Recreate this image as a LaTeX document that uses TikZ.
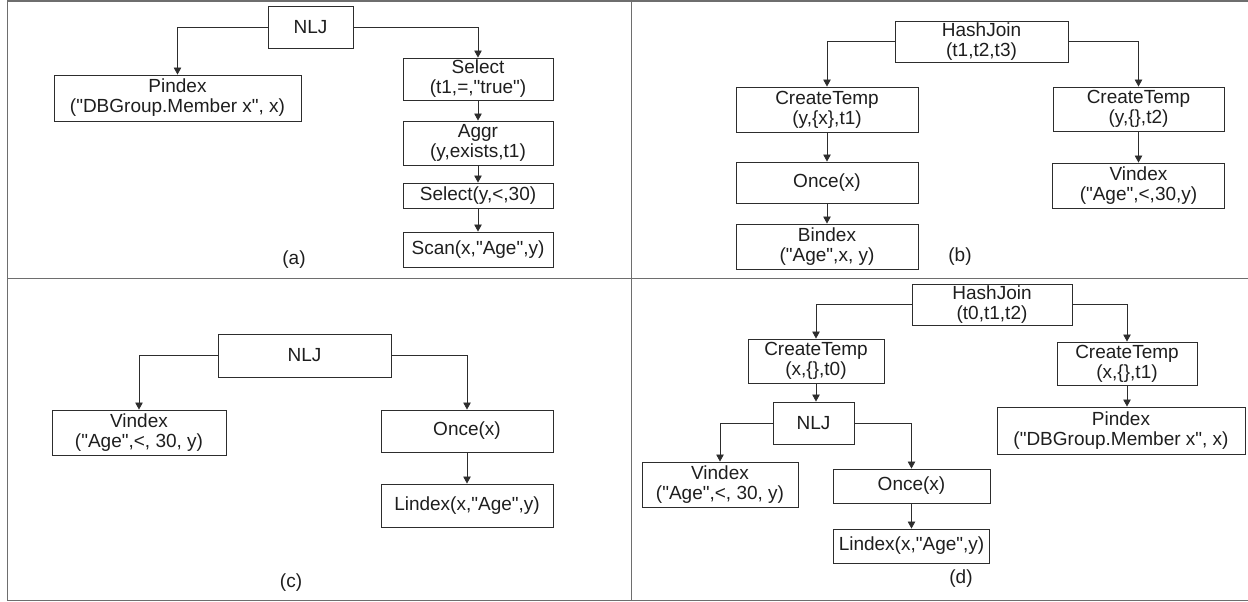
\documentclass[tikz,border=0pt]{standalone}
\usepackage{fontspec}
\newfontfamily\opfont{Liberation Sans}
\usetikzlibrary{arrows.meta, positioning}
\definecolor{boxline}{RGB}{45,45,45}
\definecolor{frameline}{RGB}{110,110,110}
\definecolor{optext}{RGB}{30,30,30}

\begin{document}
\begin{tikzpicture}[x=1pt, y=-1pt,
    opbox/.style 2 args={draw=boxline, line width=0.9pt, inner sep=0pt,
                 minimum width=#1, minimum height=#2,
                 align=center, text=optext, font=\opfont\fontsize{19}{20}\selectfont},
    tag/.style={inner sep=0pt, text=optext, font=\opfont\fontsize{19}{20}\selectfont},
    arr/.style={-{Triangle[width=7.5pt, length=7pt]}, line width=0.8pt, draw=boxline}
  ]
    \useasboundingbox (0,0) rectangle (1248,602);
    % panel frame
    \draw[frameline, line width=1.6pt] (7,1) -- (1248,1);
    \draw[frameline, line width=1pt] (7,1) -- (7,600) -- (1248,600);
    \draw[frameline, line width=1pt] (7,278) -- (1248,278);
    \draw[frameline, line width=1pt] (631,1) -- (631,600);

    % (a)
    \node[opbox={85pt}{42pt}] (nljA) at (310.5,27) {NLJ};
    \node[opbox={247pt}{46pt}] (pidxA) at (177.5,98) {Pindex\\("DBGroup.Member x", x)};
    \node[opbox={150pt}{42pt}] (selA) at (478,79) {Select\\(t1,=,"true")};
    \node[opbox={150pt}{44pt}] (aggA) at (478,143) {Aggr\\(y,exists,t1)};
    \node[opbox={150pt}{25pt}] (selyA) at (478,195.5) {Select(y,<,30)};
    \node[opbox={150pt}{35pt}] (scanA) at (478,249.5) {Scan(x,"Age",y)};
    \node[tag] (tagA) at (294,260) {(a)};

    \draw[arr] (nljA.west) -| (pidxA.north);
    \draw[arr] (nljA.east) -| (selA.north);
    \draw[arr] (selA) -- (aggA);
    \draw[arr] (aggA) -- (selyA);
    \draw[arr] (selyA) -- (scanA);

    % (b)
    \node[opbox={173pt}{41pt}] (hjB) at (981.5,41.5) {HashJoin\\(t1,t2,t3)};
    \node[opbox={182pt}{45pt}] (ctB1) at (827,109.5) {CreateTemp\\(y,\{x\},t1)};
    \node[opbox={182pt}{41pt}] (onceB) at (827,182.5) {Once(x)};
    \node[opbox={182pt}{45pt}] (bidxB) at (827,246.5) {Bindex\\("Age",x, y)};
    \node[opbox={171pt}{44pt}] (ctB2) at (1138.5,109) {CreateTemp\\(y,\{\},t2)};
    \node[opbox={172pt}{45pt}] (vidxB) at (1138.5,185.5) {Vindex\\("Age",<,30,y)};
    \node[tag] (tagB) at (960,257) {(b)};

    \draw[arr] (hjB.west) -| (ctB1.north);
    \draw[arr] (hjB.east) -| (ctB2.north);
    \draw[arr] (ctB1) -- (onceB);
    \draw[arr] (onceB) -- (bidxB);
    \draw[arr] (ctB2) -- (vidxB);

    % (c)
    \node[opbox={173pt}{43pt}] (nljC) at (304.5,355.5) {NLJ};
    \node[opbox={174pt}{45pt}] (vidxC) at (139,432.5) {Vindex\\("Age",<, 30, y)};
    \node[opbox={172pt}{42pt}] (onceC) at (467,431) {Once(x)};
    \node[opbox={172pt}{43pt}] (lidxC) at (467,505.5) {Lindex(x,"Age",y)};
    \node[tag] (tagC) at (291,583) {(c)};

    \draw[arr] (nljC.west) -| (vidxC.north);
    \draw[arr] (nljC.east) -| (onceC.north);
    \draw[arr] (onceC) -- (lidxC);

    % (d)
    \node[opbox={160pt}{41pt}] (hjD) at (992,304.5) {HashJoin\\(t0,t1,t2)};
    \node[opbox={136pt}{44pt}] (ctD0) at (816,361) {CreateTemp\\(x,\{\},t0)};
    \node[opbox={81pt}{42pt}] (nljD) at (813.5,423) {NLJ};
    \node[opbox={156pt}{45pt}] (vidxD) at (720,484.5) {Vindex\\("Age",<, 30, y)};
    \node[opbox={157pt}{34pt}] (onceD) at (911.5,486) {Once(x)};
    \node[opbox={156pt}{34pt}] (lidxD) at (911.5,546) {Lindex(x,"Age",y)};
    \node[opbox={140pt}{43pt}] (ctD1) at (1127,363.5) {CreateTemp\\(x,\{\},t1)};
    \node[opbox={248pt}{47pt}] (pidxD) at (1121,430.5) {Pindex\\("DBGroup.Member x", x)};
    \node[tag] (tagD) at (961,579) {(d)};

    \draw[arr] (hjD.west) -| (ctD0.north);
    \draw[arr] (hjD.east) -| (ctD1.north);
    \draw[arr] (ctD0.south) -- (ctD0.south |- nljD.north);
    \draw[arr] (nljD.west) -| (vidxD.north);
    \draw[arr] (nljD.east) -| (onceD.north);
    \draw[arr] (onceD) -- (lidxD);
    \draw[arr] (ctD1.south) -- (ctD1.south |- pidxD.north);
  \end{tikzpicture}
\end{document}
